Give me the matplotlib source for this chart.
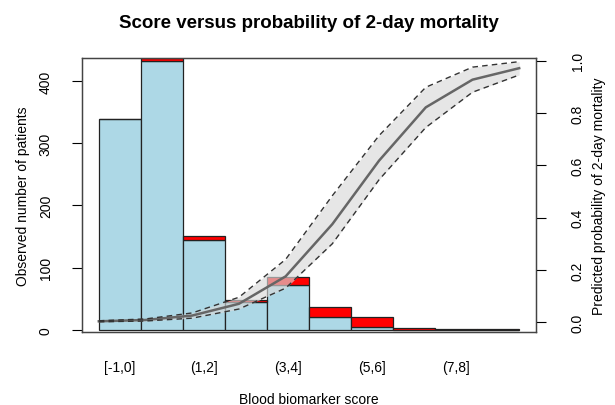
import matplotlib.pyplot as plt
import numpy as np

plt.rcParams['font.family'] = ['Liberation Sans', 'DejaVu Sans']

# observed counts per score bin
score_bins = ['[-1,0]', '(0,1]', '(1,2]', '(2,3]', '(3,4]', '(4,5]', '(5,6]', '(6,7]', '(7,8]', '(8,9]']
survived = [340, 432, 145, 44, 72, 20, 5, 0, 0, 0]
died = [0, 5, 6, 4, 13, 16, 15, 3, 1, 1]

# predicted probability of 2-day mortality with confidence band
pred_mean = [0.003, 0.008, 0.025, 0.07, 0.175, 0.375, 0.618, 0.822, 0.928, 0.972]
pred_low = [0.001, 0.004, 0.015, 0.05, 0.13, 0.30, 0.545, 0.745, 0.88, 0.946]
pred_high = [0.005, 0.012, 0.035, 0.095, 0.24, 0.484, 0.714, 0.899, 0.976, 0.997]

fig = plt.figure(figsize=(6.15, 4.06), dpi=100)
ax = fig.add_axes([82 / 615, 1 - 333 / 406, (536 - 82) / 615, (333 - 59) / 406])

n = len(score_bins)
left = np.arange(n)
ax.bar(left, survived, width=1, align='edge', color='lightblue', edgecolor='#222222', linewidth=0.9)
ax.bar(left, died, width=1, align='edge', bottom=survived, color='red', edgecolor='#222222', linewidth=0.9)

ax.set_xlim(-0.4, n + 0.4)
ax.set_ylim(-3.7, 437.5)
ax.set_xticks(left[::2] + 0.5)
ax.set_xticklabels(score_bins[::2], fontsize=10)
ax.tick_params(axis='x', length=0, pad=20)
ax.set_yticks([0, 100, 200, 300, 400])
ax.tick_params(axis='y', length=7, labelsize=10, pad=14)
for lab in ax.get_yticklabels():
    lab.set_rotation(90)
    lab.set_va('center')
ax.set_ylabel('Observed number of patients', fontsize=10, labelpad=6)
for sp in ax.spines.values():
    sp.set_color('#444444')
    sp.set_linewidth(1.0)

# curve on the secondary axis
ax2 = ax.twinx()
xc = np.linspace(0, n, n)
ax2.fill_between(xc, pred_low, pred_high, color='#d9d9d9', alpha=0.65, linewidth=0)
ax2.plot(xc, pred_mean, color='#666666', linewidth=1.8)
ax2.plot(xc, pred_low, color='#333333', linestyle=(0, (4, 3)), linewidth=1)
ax2.plot(xc, pred_high, color='#333333', linestyle=(0, (4, 3)), linewidth=1)
ax2.set_ylim(-0.038, 1.011)
ax2.set_yticks([0, 0.2, 0.4, 0.6, 0.8, 1.0])
ax2.set_yticklabels(['0.0', '0.2', '0.4', '0.6', '0.8', '1.0'])
ax2.tick_params(axis='y', length=7, labelsize=10, pad=18)
for lab in ax2.get_yticklabels():
    lab.set_rotation(90)
    lab.set_va('center')
ax2.set_ylabel('Predicted probability of 2-day mortality', fontsize=10, labelpad=5)
for sp in ax2.spines.values():
    sp.set_color('#444444')

fig.text(309 / 615, 1 - 404 / 406, 'Blood biomarker score', fontsize=10, ha='center', va='baseline')
fig.text(309 / 615, 1 - 28 / 406, 'Score versus probability of 2-day mortality', fontsize=13.5,
         fontweight='bold', ha='center', va='baseline')

fig.savefig('out.png', dpi=100)
